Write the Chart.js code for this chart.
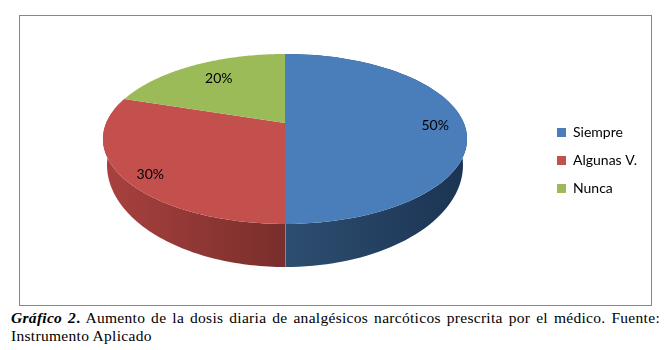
<!DOCTYPE html>
<html>
<head>
<meta charset="utf-8">
<script src="https://cdn.jsdelivr.net/npm/chart.js@4"></script>
<style>
  html, body { margin: 0; padding: 0; background: #fff; }
  #frame { position: absolute; left: 19px; top: 15px; width: 631px; height: 289px; border: 1px solid #868686; }
  #pie { position: absolute; left: 0; top: 0; }
  #caption {
    position: absolute; left: 11px; top: 309px; width: 649px;
    font: 15.5px/18px "Liberation Serif", serif; color: #000;
    letter-spacing: 0.3px;
  }
  #caption div:first-child { text-align: justify; text-align-last: justify; white-space: nowrap; }
</style>
</head>
<body>
<div id="frame"><canvas id="pie" width="627" height="289"></canvas></div>
<div id="caption"><div><b><i>Gráfico 2</i>.</b> Aumento de la dosis diaria de analgésicos narcóticos prescrita por el médico. Fuente:</div><div>Instrumento Aplicado</div></div>
<script>
const categories = ['Siempre', 'Algunas V.', 'Nunca'];
const values = [50, 30, 20];
const colors = ['#4a7ebb', '#c4504e', '#9bbb59'];
const labelRadius = [0.84, 0.85, 0.72];
const labelShift = [[0, 2], [1, 6], [2, -1]];

// perspectiva del disco, en px del canvas (frame en 20,16)
const cx = 285 - 20, cy = 123 - 16, rx = 178.8, ry = 82, k = -0.188;
// borde inferior del lateral
const lowCy = 165 - 16, lowRx = 178, lowRy = 102;

function project(theta, r) {
  const u = Math.sin(theta) * r, v = -Math.cos(theta) * r;
  const w = 1 + k * v;
  return { x: cx + rx * u / w, y: cy + ry * v / w };
}

function lowerRim(theta) {
  return { x: cx + lowRx * Math.sin(theta), y: lowCy - lowRy * Math.cos(theta) };
}

function rimPath(ctx, from, to, fn, first) {
  const n = 80;
  for (let i = 0; i <= n; i++) {
    const t = from + (to - from) * i / n;
    const p = fn(t);
    if (i === 0 && first) ctx.moveTo(p.x, p.y); else ctx.lineTo(p.x, p.y);
  }
}

// gradientes del lateral: [lado exterior, centro]
const sideColors = [['#1b3453', '#2e4e70'], ['#a8413f', '#782e2b']];

const pie3d = {
  id: 'pie3d',
  beforeDatasetsDraw(chart) {
    const ctx = chart.ctx;
    const arcs = chart.getDatasetMeta(0).data;
    // lateral
    arcs.forEach((arc, i) => {
      if (!sideColors[i]) return;
      const a = arc.startAngle + Math.PI / 2, b = arc.endAngle + Math.PI / 2;
      const g = i === 0
        ? ctx.createLinearGradient(cx + rx, 0, cx, 0)
        : ctx.createLinearGradient(cx - rx, 0, cx, 0);
      g.addColorStop(0, sideColors[i][0]);
      g.addColorStop(1, sideColors[i][1]);
      ctx.beginPath();
      rimPath(ctx, a, b, t => project(t, 1), true);
      rimPath(ctx, b, a, lowerRim, false);
      ctx.closePath();
      ctx.fillStyle = g;
      ctx.fill();
    });
    // cara superior
    arcs.forEach((arc, i) => {
      const a = arc.startAngle + Math.PI / 2, b = arc.endAngle + Math.PI / 2;
      ctx.beginPath();
      ctx.moveTo(cx, cy);
      rimPath(ctx, a, b, t => project(t, 1), false);
      ctx.closePath();
      ctx.fillStyle = colors[i];
      ctx.fill();
    });
    // junta clara en el frente
    const p0 = project(Math.PI, 1), p1 = lowerRim(Math.PI);
    ctx.beginPath();
    ctx.moveTo(cx + 0.5, p0.y);
    ctx.lineTo(cx + 0.5, p1.y);
    ctx.strokeStyle = 'rgba(255,255,255,0.35)';
    ctx.stroke();
    // etiquetas
    ctx.fillStyle = '#000';
    ctx.font = '14px Lato, sans-serif';
    ctx.textAlign = 'center';
    ctx.textBaseline = 'middle';
    arcs.forEach((arc, i) => {
      const mid = (arc.startAngle + arc.endAngle) / 2 + Math.PI / 2;
      const p = project(mid, labelRadius[i]);
      ctx.fillText(values[i] + '%', p.x + labelShift[i][0], p.y + labelShift[i][1]);
    });
    return false;
  }
};

new Chart(document.getElementById('pie'), {
  type: 'pie',
  data: {
    labels: categories,
    datasets: [{ data: values, backgroundColor: colors, borderWidth: 0 }]
  },
  options: {
    responsive: false,
    animation: false,
    plugins: {
      tooltip: { enabled: false },
      legend: {
        position: 'right',
        labels: {
          boxWidth: 9,
          boxHeight: 9,
          padding: 14,
          color: '#000',
          font: { family: 'Lato, sans-serif', size: 14 }
        }
      }
    }
  },
  plugins: [pie3d]
});
</script>
</body>
</html>
